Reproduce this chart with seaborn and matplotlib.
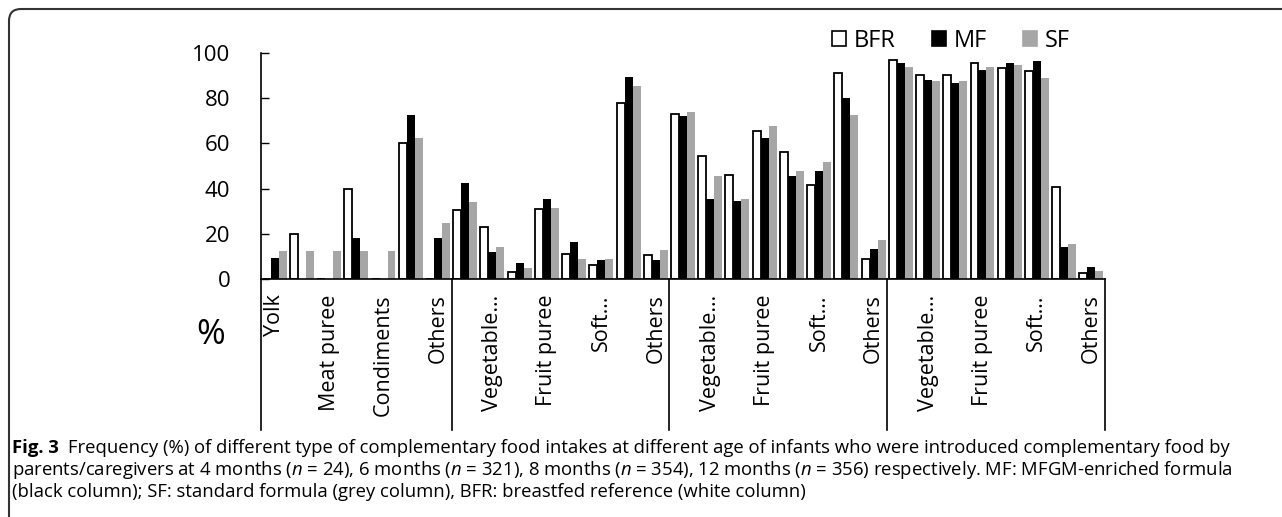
import numpy as np
import pandas as pd
import matplotlib
matplotlib.use('Agg')
import matplotlib.pyplot as plt
import matplotlib.transforms as mtransforms
from matplotlib.patches import Patch, FancyBboxPatch
import seaborn as sns

# 4 age groups: 4 mo (7 food types), 6 / 8 / 12 mo (8 food types each)
tick_labels = ['Yolk', '', 'Meat puree', '', 'Condiments', '', 'Others',
               '', 'Vegetable…', '', 'Fruit puree', '', 'Soft…', '', 'Others',
               '', 'Vegetable…', '', 'Fruit puree', '', 'Soft…', '', 'Others',
               '', 'Vegetable…', '', 'Fruit puree', '', 'Soft…', '', 'Others']
group_sizes = [7, 8, 8, 8]

bfr = [0, 20, 0, 40, 0, 60, 0,
       30.4, 22.9, 2.9, 31.1, 11.2, 6.0, 77.9, 10.5,
       73.0, 54.6, 45.9, 65.3, 56.0, 41.4, 91.2, 8.7,
       97.1, 90.4, 90.4, 95.4, 93.2, 92.2, 40.6, 2.7]
mf = [9.1, 0, 0, 18.2, 0, 72.7, 18.2,
      42.3, 11.8, 7.1, 35.4, 16.5, 8.3, 89.4, 8.3,
      72.3, 35.5, 34.5, 62.4, 45.6, 47.8, 79.9, 13.4,
      95.7, 88.1, 86.9, 92.5, 95.7, 96.6, 14.2, 5.5]
sf = [12.5, 12.5, 12.5, 12.5, 12.5, 62.5, 25,
      33.9, 14.2, 5.0, 31.3, 9.0, 9.0, 85.3, 13.0,
      73.7, 45.4, 35.5, 67.7, 47.8, 51.6, 72.6, 17.1,
      93.8, 87.8, 87.8, 93.8, 94.8, 88.9, 15.5, 3.4]
series = ['BFR', 'MF', 'SF']
colors = {'BFR': 'white', 'MF': 'black', 'SF': '#a6a6a6'}

n = len(bfr)
df = pd.DataFrame({
    'pos': list(range(n)) * 3,
    'value': bfr + mf + sf,
    'group': ['BFR'] * n + ['MF'] * n + ['SF'] * n,
})

plt.rcParams['font.family'] = ['Open Sans', 'DejaVu Sans']
plt.rcParams['mathtext.fontset'] = 'custom'
plt.rcParams['mathtext.it'] = 'Open Sans:italic'
plt.rcParams['mathtext.rm'] = 'Open Sans'

W, H = 1282, 517
fig = plt.figure(figsize=(W / 100, H / 100), dpi=100)
ax = fig.add_axes([261 / W, 1 - 279 / H, (1105 - 261) / W, (279 - 53) / H])

sns.barplot(data=df, x='pos', y='value', hue='group', hue_order=series,
            palette=colors, width=0.88, saturation=1, legend=False, ax=ax)
for cont, s in zip(ax.containers, series):
    for bar in cont:
        if s == 'BFR':
            bar.set_edgecolor('black')
            bar.set_linewidth(1.3)
        else:
            bar.set_linewidth(0)

ax.set_xlim(-0.5, n - 0.5)
ax.set_ylim(0, 100)
ax.set_yticks(range(0, 101, 20))
ax.tick_params(axis='y', direction='in', length=6, width=1, pad=22, labelsize=16)
ax.set_xticks(range(n))
ax.set_xticklabels(tick_labels, rotation=90, fontsize=15.5, va='top', ha='center')
ax.tick_params(axis='x', length=0, pad=11)
ax.set_xlabel('')
ax.set_ylabel('')
for sp in ['top', 'right']:
    ax.spines[sp].set_visible(False)
for sp in ['left', 'bottom']:
    ax.spines[sp].set_linewidth(1.2)

# group divider lines under the category axis
trans = mtransforms.blended_transform_factory(ax.transData, ax.transAxes)
edges = np.cumsum([0] + group_sizes) - 0.5
for e in edges:
    ax.plot([e, e], [0, -0.668], transform=trans, color='black', lw=1.2, clip_on=False)

fig.text(211 / W, 1 - 335 / H, '%', fontsize=25, ha='center', va='center')

handles = [Patch(facecolor=colors[s], edgecolor='black' if s == 'BFR' else colors[s],
                 linewidth=1.2) for s in series]
fig.legend(handles, series, loc='upper left', bbox_to_anchor=(820 / W, 1 - 17 / H),
           ncol=3, frameon=False, fontsize=17, borderpad=0, handlelength=0.6,
           handleheight=0.6, handletextpad=0.35, columnspacing=1.5)

# caption frame (rounded top-left corner)
frame = FancyBboxPatch((9, -30), 1400, H - 9 + 30, boxstyle='round,pad=0,rounding_size=12',
                       transform=None, facecolor='none', edgecolor='#333333', lw=1.5)
fig.add_artist(frame)

fs = 13.3
y1, y2, y3 = 1 - 453 / H, 1 - 475 / H, 1 - 497 / H
t0 = fig.text(12 / W, y1, 'Fig. 3', fontsize=fs, fontweight='bold', va='baseline')
fig.canvas.draw()
bb = t0.get_window_extent()
fig.text((bb.x1 + 9) / W, y1,
         'Frequency (%) of different type of complementary food intakes at different age of infants '
         'who were introduced complementary food by', fontsize=fs, va='baseline')
fig.text(12 / W, y2,
         'parents/caregivers at 4 months ($n$ = 24), 6 months ($n$ = 321), 8 months ($n$ = 354), '
         '12 months ($n$ = 356) respectively. MF: MFGM-enriched formula', fontsize=fs, va='baseline')
fig.text(12 / W, y3,
         '(black column); SF: standard formula (grey column), BFR: breastfed reference (white column)',
         fontsize=fs, va='baseline')

fig.savefig('out.png', dpi=100)
